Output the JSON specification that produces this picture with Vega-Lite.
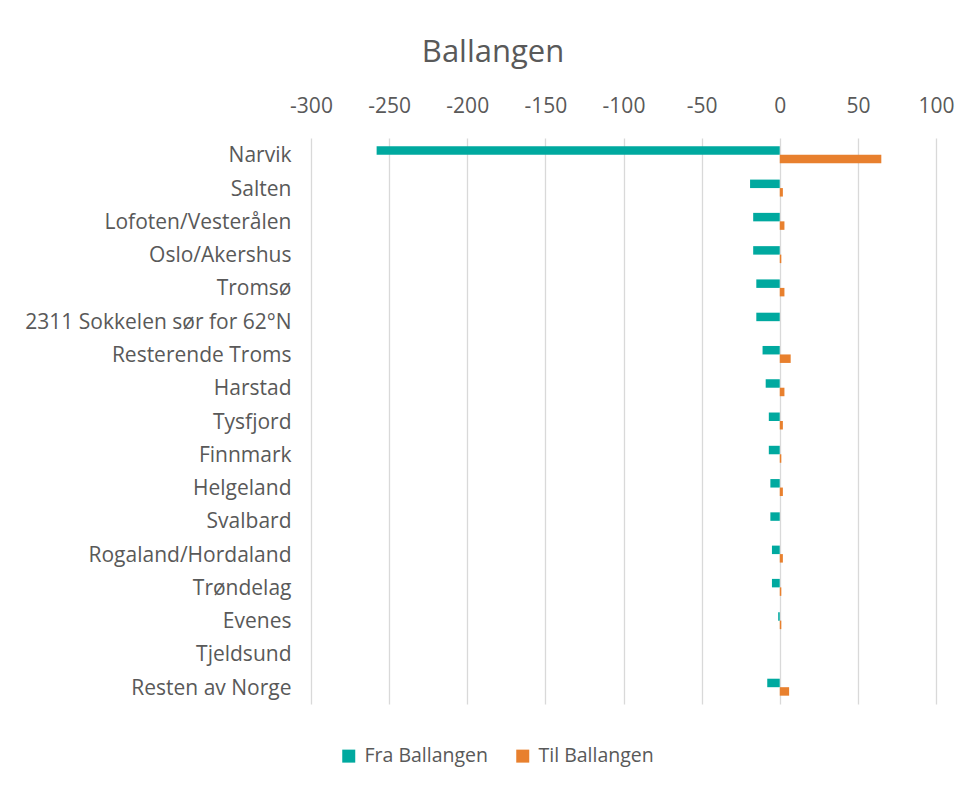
{
  "$schema": "https://vega.github.io/schema/vega-lite/v6.json",
  "width": 625,
  "height": 566,
  "autosize": {"type": "none"},
  "padding": {"left": 311, "top": 138, "right": 37, "bottom": 83},
  "background": "white",
  "title": {
    "text": "Ballangen",
    "anchor": "start",
    "dx": 397,
    "offset": 26,
    "fontSize": 31,
    "font": "Open Sans",
    "fontWeight": "normal",
    "color": "#595959"
  },
  "data": {
    "values": [
      {"region": "Narvik", "series": "Fra Ballangen", "value": -258},
      {"region": "Narvik", "series": "Til Ballangen", "value": 65},
      {"region": "Salten", "series": "Fra Ballangen", "value": -19},
      {"region": "Salten", "series": "Til Ballangen", "value": 2},
      {"region": "Lofoten/Vesterålen", "series": "Fra Ballangen", "value": -17},
      {"region": "Lofoten/Vesterålen", "series": "Til Ballangen", "value": 3},
      {"region": "Oslo/Akershus", "series": "Fra Ballangen", "value": -17},
      {"region": "Oslo/Akershus", "series": "Til Ballangen", "value": 1},
      {"region": "Tromsø", "series": "Fra Ballangen", "value": -15},
      {"region": "Tromsø", "series": "Til Ballangen", "value": 3},
      {"region": "2311 Sokkelen sør for 62°N", "series": "Fra Ballangen", "value": -15},
      {"region": "2311 Sokkelen sør for 62°N", "series": "Til Ballangen", "value": 0},
      {"region": "Resterende Troms", "series": "Fra Ballangen", "value": -11},
      {"region": "Resterende Troms", "series": "Til Ballangen", "value": 7},
      {"region": "Harstad", "series": "Fra Ballangen", "value": -9},
      {"region": "Harstad", "series": "Til Ballangen", "value": 3},
      {"region": "Tysfjord", "series": "Fra Ballangen", "value": -7},
      {"region": "Tysfjord", "series": "Til Ballangen", "value": 2},
      {"region": "Finnmark", "series": "Fra Ballangen", "value": -7},
      {"region": "Finnmark", "series": "Til Ballangen", "value": 1},
      {"region": "Helgeland", "series": "Fra Ballangen", "value": -6},
      {"region": "Helgeland", "series": "Til Ballangen", "value": 2},
      {"region": "Svalbard", "series": "Fra Ballangen", "value": -6},
      {"region": "Svalbard", "series": "Til Ballangen", "value": 0},
      {"region": "Rogaland/Hordaland", "series": "Fra Ballangen", "value": -5},
      {"region": "Rogaland/Hordaland", "series": "Til Ballangen", "value": 2},
      {"region": "Trøndelag", "series": "Fra Ballangen", "value": -5},
      {"region": "Trøndelag", "series": "Til Ballangen", "value": 1},
      {"region": "Evenes", "series": "Fra Ballangen", "value": -1},
      {"region": "Evenes", "series": "Til Ballangen", "value": 1},
      {"region": "Tjeldsund", "series": "Fra Ballangen", "value": 0},
      {"region": "Tjeldsund", "series": "Til Ballangen", "value": 0},
      {"region": "Resten av Norge", "series": "Fra Ballangen", "value": -8},
      {"region": "Resten av Norge", "series": "Til Ballangen", "value": 6}
    ]
  },
  "mark": {"type": "bar"},
  "encoding": {
    "y": {
      "field": "region",
      "type": "nominal",
      "sort": null,
      "title": null,
      "scale": {"paddingInner": 0.49, "paddingOuter": 0.25},
      "axis": {
        "ticks": false,
        "domain": false,
        "labelFontSize": 21,
        "labelFont": "Open Sans",
        "labelColor": "#595959",
        "labelPadding": 20,
        "labelLimit": 400,
        "labelOffset": 1.5
      }
    },
    "yOffset": {"field": "series", "type": "nominal", "sort": ["Fra Ballangen", "Til Ballangen"]},
    "x": {
      "field": "value",
      "type": "quantitative",
      "title": null,
      "scale": {"domain": [-300, 100], "nice": false, "zero": false},
      "axis": {
        "orient": "top",
        "values": [-300, -250, -200, -150, -100, -50, 0, 50, 100],
        "labelExpr": "'' + datum.value",
        "labelFlush": false,
        "ticks": false,
        "domain": false,
        "grid": true,
        "gridColor": "#d9d9d9",
        "gridWidth": 1.3,
        "labelFontSize": 21,
        "labelFont": "Open Sans",
        "labelColor": "#595959",
        "labelPadding": 22
      }
    },
    "color": {
      "field": "series",
      "type": "nominal",
      "scale": {"domain": ["Fra Ballangen", "Til Ballangen"], "range": ["#00A99F", "#E8802E"]},
      "legend": {
        "title": null,
        "orient": "none",
        "direction": "horizontal",
        "legendX": 28,
        "legendY": 608,
        "symbolType": "square",
        "symbolSize": 169,
        "symbolStrokeWidth": 0,
        "symbolOpacity": 1,
        "labelFontSize": 19.5,
        "labelFont": "Open Sans",
        "labelColor": "#595959",
        "columnPadding": 24,
        "labelOffset": 6
      }
    }
  },
  "config": {"view": {"stroke": null}}
}
